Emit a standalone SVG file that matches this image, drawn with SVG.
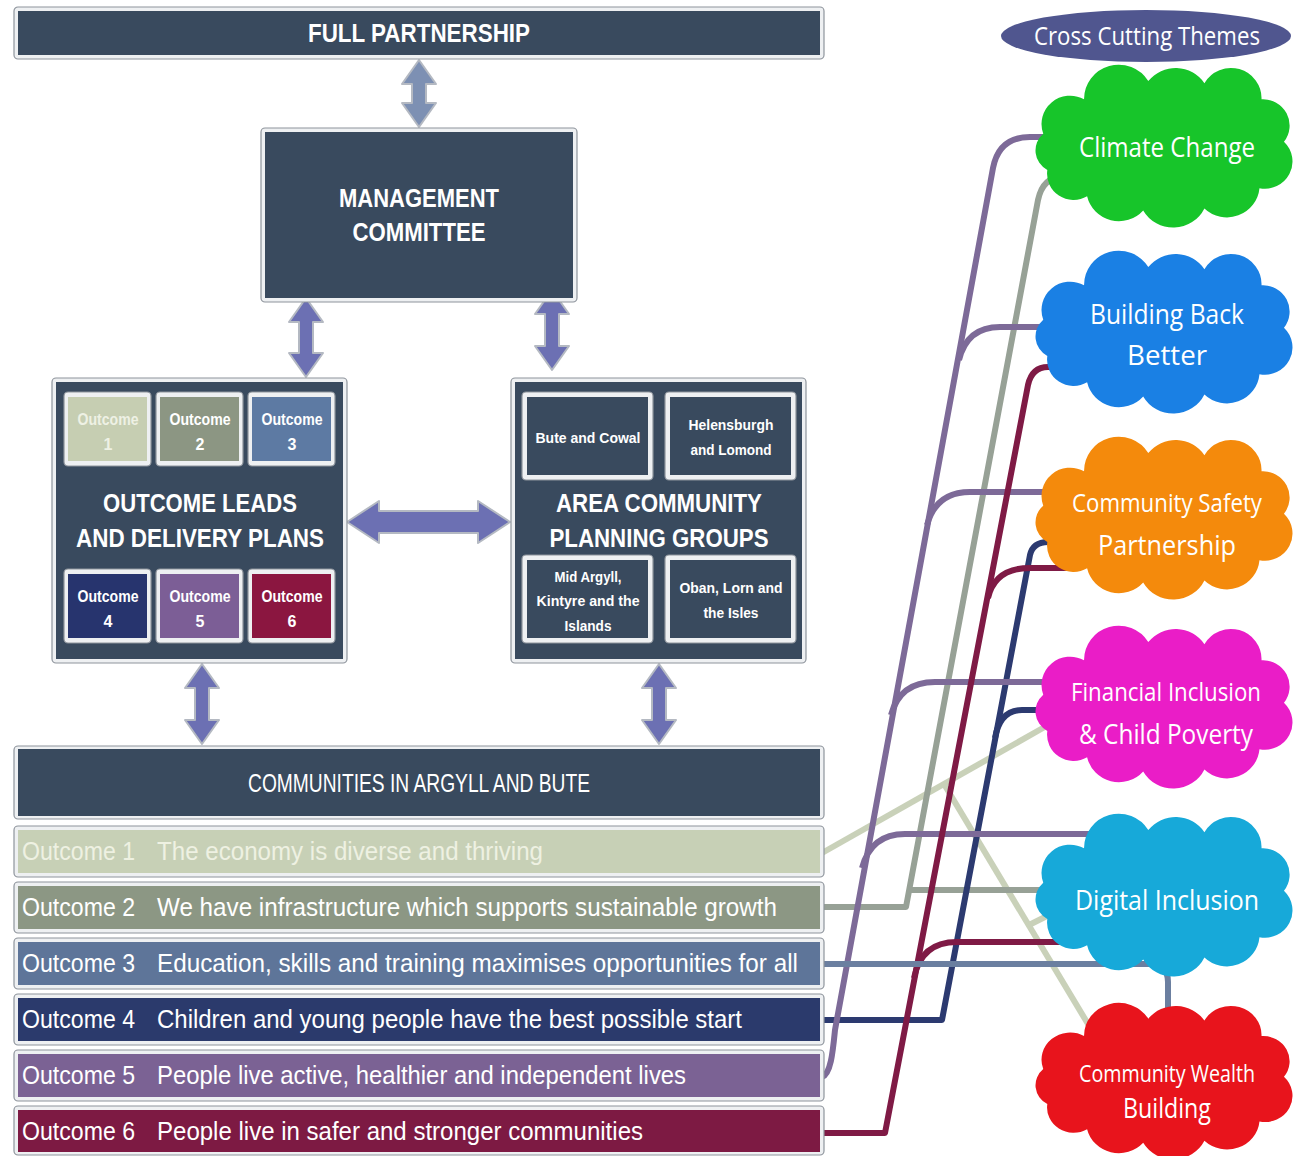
<svg xmlns="http://www.w3.org/2000/svg" width="1293" height="1156" viewBox="0 0 1293 1156">
<defs>
<style>
.halo{fill:#eef0f2;stroke:#8e949c;stroke-width:1.2}
.dark{fill:#394a5e}
.t{font-family:"Liberation Sans",Arial,sans-serif;fill:#fff;text-anchor:middle}
.b{font-weight:bold}
.rt{font-family:"Liberation Sans",Arial,sans-serif;fill:#fff;font-size:25px}
.arr{stroke:#b4b9c2;stroke-width:2;stroke-linejoin:round}
.lav{fill:#6c70b3}
.c{fill:none;stroke-width:6;stroke-linejoin:round}
.ct{font-family:"Open Sans","Noto Sans",sans-serif;fill:#fff;font-size:27px;text-anchor:middle}
</style>
<path id="cloud" d="M12,64 A28,28 0 0 1 52,30 A34,34 0 0 1 115,12 A34,34 0 0 1 170,14 A30,30 0 0 1 226,30 A26,26 0 0 1 248,72 A27,27 0 0 1 224,118 A32,32 0 0 1 170,138 A34,34 0 0 1 110,140 A32,32 0 0 1 55,126 A26,26 0 0 1 16,100 A22,22 0 0 1 12,64 Z"/>
</defs>
<rect width="1293" height="1156" fill="#fff"/>

<g id="connectors">
  <g id="box-arrows" class="arr">
    <path fill="#7d90b3" d="M419,60 L436,84 L426,84 L426,103 L436,103 L419,127 L402,103 L412,103 L412,84 L402,84 Z"/>
    <path class="lav" d="M306,298 L323,322 L313,322 L313,353 L323,353 L306,377 L289,353 L299,353 L299,322 L289,322 Z"/>
    <path class="lav" d="M552,290 L569,314 L559,314 L559,346 L569,346 L552,370 L535,346 L545,346 L545,314 L535,314 Z"/>
    <path class="lav" d="M202,664 L219,688 L209,688 L209,720 L219,720 L202,744 L185,720 L195,720 L195,688 L185,688 Z"/>
    <path class="lav" d="M659,664 L676,688 L666,688 L666,720 L676,720 L659,744 L642,720 L652,720 L652,688 L642,688 Z"/>
    <path class="lav" d="M347,522 L379,501 L379,511 L478,511 L478,501 L510,522 L478,543 L478,533 L379,533 L379,543 Z"/>
  </g>
  <g id="theme-links">
    <path class="c" stroke="#c9d1b9" d="M822,853 L1050,724"/>
    <path class="c" stroke="#c9d1b9" d="M944,784 L1094,1034"/>
    <path class="c" stroke="#c9d1b9" d="M1029,925 L1055,912"/>
    <path class="c" stroke="#97a196" d="M822,907 L906,907 L1038,200 Q1043,177 1062,177 L1080,177"/>
    <path class="c" stroke="#97a196" d="M911,890 L1062,890"/>
    <path class="c" stroke="#2c3a70" d="M822,1020 L942,1020 L1030,555 Q1033,542 1048,542 L1062,542"/>
    <path class="c" stroke="#2c3a70" d="M995,738 Q1000,710 1022,710 L1058,710"/>
    <path class="c" stroke="#7d6a98" d="M822,1077 C831,1074 833,1050 835,1030 L993,168 Q999,137 1030,137 L1062,137"/>
    <path class="c" stroke="#7d6a98" d="M959,360 Q967,327 1000,327 L1062,327"/>
    <path class="c" stroke="#7d6a98" d="M927,525 Q936,492 970,492 L1064,492"/>
    <path class="c" stroke="#7d6a98" d="M891,715 Q900,682 935,682 L1062,682"/>
    <path class="c" stroke="#7d6a98" d="M862,868 Q871,834 905,834 L1125,834"/>
    <path class="c" stroke="#7f1a45" d="M822,1133 L885,1133 L1028,385 Q1032,367 1048,367 L1072,367"/>
    <path class="c" stroke="#7f1a45" d="M988,598 Q995,568 1030,568 L1080,568"/>
    <path class="c" stroke="#7f1a45" d="M914,978 Q921,942 957,942 L1080,942"/>
    <path class="c" stroke="#6b7fa0" d="M822,964 L1150,964 Q1168,964 1168,982 L1168,1020"/>
  </g>
</g>

<g id="full-partnership">
  <rect class="halo" x="14" y="7" width="810" height="52" rx="4"/>
  <rect class="dark" x="18" y="11" width="802" height="44"/>
  <text class="t b" x="419" y="42" font-size="26" textLength="222" lengthAdjust="spacingAndGlyphs">FULL PARTNERSHIP</text>
</g>

<g id="management-committee">
  <rect class="halo" x="261" y="128" width="316" height="174" rx="4"/>
  <rect class="dark" x="265" y="132" width="308" height="166"/>
  <text class="t b" x="419" y="207" font-size="26" textLength="160" lengthAdjust="spacingAndGlyphs">MANAGEMENT</text>
  <text class="t b" x="419" y="241" font-size="26" textLength="133" lengthAdjust="spacingAndGlyphs">COMMITTEE</text>
</g>

<g id="outcome-leads">
  <rect class="halo" x="52" y="378" width="295" height="285" rx="4"/>
  <rect class="dark" x="56" y="382" width="287" height="277"/>
  <text class="t b" x="200" y="512" font-size="25" textLength="194" lengthAdjust="spacingAndGlyphs">OUTCOME LEADS</text>
  <text class="t b" x="200" y="547" font-size="25" textLength="248" lengthAdjust="spacingAndGlyphs">AND DELIVERY PLANS</text>
  <g id="ol-outcome1">
    <rect class="halo" x="64" y="392" width="87" height="74" rx="4"/>
    <rect x="68" y="397" width="79" height="64" fill="#c6ceb2"/>
    <text class="t b" x="108" y="425" font-size="16" textLength="61" lengthAdjust="spacingAndGlyphs" style="fill:#eef1e4">Outcome</text>
    <text class="t b" x="108" y="450" font-size="16" style="fill:#eef1e4">1</text>
  </g>
  <g id="ol-outcome2">
    <rect class="halo" x="156" y="392" width="87" height="74" rx="4"/>
    <rect x="160" y="397" width="79" height="64" fill="#8c9683"/>
    <text class="t b" x="200" y="425" font-size="16" textLength="61" lengthAdjust="spacingAndGlyphs">Outcome</text>
    <text class="t b" x="200" y="450" font-size="16">2</text>
  </g>
  <g id="ol-outcome3">
    <rect class="halo" x="248" y="392" width="87" height="74" rx="4"/>
    <rect x="252" y="397" width="79" height="64" fill="#5d7aa3"/>
    <text class="t b" x="292" y="425" font-size="16" textLength="61" lengthAdjust="spacingAndGlyphs">Outcome</text>
    <text class="t b" x="292" y="450" font-size="16">3</text>
  </g>
  <g id="ol-outcome4">
    <rect class="halo" x="64" y="569" width="87" height="74" rx="4"/>
    <rect x="68" y="574" width="79" height="64" fill="#27346e"/>
    <text class="t b" x="108" y="602" font-size="16" textLength="61" lengthAdjust="spacingAndGlyphs">Outcome</text>
    <text class="t b" x="108" y="627" font-size="16">4</text>
  </g>
  <g id="ol-outcome5">
    <rect class="halo" x="156" y="569" width="87" height="74" rx="4"/>
    <rect x="160" y="574" width="79" height="64" fill="#7c5e96"/>
    <text class="t b" x="200" y="602" font-size="16" textLength="61" lengthAdjust="spacingAndGlyphs">Outcome</text>
    <text class="t b" x="200" y="627" font-size="16">5</text>
  </g>
  <g id="ol-outcome6">
    <rect class="halo" x="248" y="569" width="87" height="74" rx="4"/>
    <rect x="252" y="574" width="79" height="64" fill="#8b1640"/>
    <text class="t b" x="292" y="602" font-size="16" textLength="61" lengthAdjust="spacingAndGlyphs">Outcome</text>
    <text class="t b" x="292" y="627" font-size="16">6</text>
  </g>
</g>

<g id="area-groups">
  <rect class="halo" x="511" y="378" width="295" height="285" rx="4"/>
  <rect class="dark" x="515" y="382" width="287" height="277"/>
  <text class="t b" x="659" y="512" font-size="25" textLength="206" lengthAdjust="spacingAndGlyphs">AREA COMMUNITY</text>
  <text class="t b" x="659" y="547" font-size="25" textLength="219" lengthAdjust="spacingAndGlyphs">PLANNING GROUPS</text>
  <g id="bute-cowal">
    <rect class="halo" x="522" y="392" width="131" height="88" rx="4"/>
    <rect class="dark" x="527" y="397" width="121" height="78"/>
    <text class="t b" x="588" y="443" font-size="15" textLength="105" lengthAdjust="spacingAndGlyphs">Bute and Cowal</text>
  </g>
  <g id="helensburgh-lomond">
    <rect class="halo" x="665" y="392" width="131" height="88" rx="4"/>
    <rect class="dark" x="670" y="397" width="121" height="78"/>
    <text class="t b" x="731" y="430" font-size="15" textLength="85" lengthAdjust="spacingAndGlyphs">Helensburgh</text>
    <text class="t b" x="731" y="455" font-size="15" textLength="81" lengthAdjust="spacingAndGlyphs">and Lomond</text>
  </g>
  <g id="mid-argyll">
    <rect class="halo" x="522" y="555" width="131" height="88" rx="4"/>
    <rect class="dark" x="527" y="560" width="121" height="78"/>
    <text class="t b" x="588" y="582" font-size="15" textLength="67" lengthAdjust="spacingAndGlyphs">Mid Argyll,</text>
    <text class="t b" x="588" y="606" font-size="15" textLength="103" lengthAdjust="spacingAndGlyphs">Kintyre and the</text>
    <text class="t b" x="588" y="631" font-size="15" textLength="47" lengthAdjust="spacingAndGlyphs">Islands</text>
  </g>
  <g id="oban-lorn">
    <rect class="halo" x="665" y="555" width="131" height="88" rx="4"/>
    <rect class="dark" x="670" y="560" width="121" height="78"/>
    <text class="t b" x="731" y="593" font-size="15" textLength="103" lengthAdjust="spacingAndGlyphs">Oban, Lorn and</text>
    <text class="t b" x="731" y="618" font-size="15" textLength="55" lengthAdjust="spacingAndGlyphs">the Isles</text>
  </g>
</g>

<g id="communities">
  <rect class="halo" x="14" y="746" width="810" height="73" rx="4"/>
  <rect class="dark" x="18" y="749" width="802" height="67"/>
  <text class="t" x="419" y="792" font-size="25" textLength="342" lengthAdjust="spacingAndGlyphs">COMMUNITIES IN ARGYLL AND BUTE</text>
</g>

<g id="outcome-row-1">
  <rect class="halo" x="14" y="826" width="810" height="51" rx="4"/>
  <rect x="18" y="830" width="802" height="43" fill="#c7d0b6"/>
  <text class="rt" x="22" y="860" textLength="113" lengthAdjust="spacingAndGlyphs" style="fill:#eef1e2">Outcome 1</text>
  <text class="rt" x="157" y="860" textLength="386" lengthAdjust="spacingAndGlyphs" style="fill:#eef1e2">The economy is diverse and thriving</text>
</g>
<g id="outcome-row-2">
  <rect class="halo" x="14" y="882" width="810" height="51" rx="4"/>
  <rect x="18" y="886" width="802" height="43" fill="#8c9784"/>
  <text class="rt" x="22" y="916" textLength="113" lengthAdjust="spacingAndGlyphs">Outcome 2</text>
  <text class="rt" x="157" y="916" textLength="620" lengthAdjust="spacingAndGlyphs">We have infrastructure which supports sustainable growth</text>
</g>
<g id="outcome-row-3">
  <rect class="halo" x="14" y="938" width="810" height="51" rx="4"/>
  <rect x="18" y="942" width="802" height="43" fill="#5e7599"/>
  <text class="rt" x="22" y="972" textLength="113" lengthAdjust="spacingAndGlyphs">Outcome 3</text>
  <text class="rt" x="157" y="972" textLength="641" lengthAdjust="spacingAndGlyphs">Education, skills and training maximises opportunities for all</text>
</g>
<g id="outcome-row-4">
  <rect class="halo" x="14" y="994" width="810" height="51" rx="4"/>
  <rect x="18" y="998" width="802" height="43" fill="#2b3a6c"/>
  <text class="rt" x="22" y="1028" textLength="113" lengthAdjust="spacingAndGlyphs">Outcome 4</text>
  <text class="rt" x="157" y="1028" textLength="585" lengthAdjust="spacingAndGlyphs">Children and young people have the best possible start</text>
</g>
<g id="outcome-row-5">
  <rect class="halo" x="14" y="1050" width="810" height="51" rx="4"/>
  <rect x="18" y="1054" width="802" height="43" fill="#7b6294"/>
  <text class="rt" x="22" y="1084" textLength="113" lengthAdjust="spacingAndGlyphs">Outcome 5</text>
  <text class="rt" x="157" y="1084" textLength="529" lengthAdjust="spacingAndGlyphs">People live active, healthier and independent lives</text>
</g>
<g id="outcome-row-6">
  <rect class="halo" x="14" y="1106" width="810" height="49" rx="4"/>
  <rect x="18" y="1110" width="802" height="42" fill="#7d1a43"/>
  <text class="rt" x="22" y="1140" textLength="113" lengthAdjust="spacingAndGlyphs">Outcome 6</text>
  <text class="rt" x="157" y="1140" textLength="486" lengthAdjust="spacingAndGlyphs">People live in safer and stronger communities</text>
</g>

<g id="cross-cutting-themes">
  <ellipse cx="1146" cy="36" rx="145" ry="26" fill="#50568f"/>
  <text class="ct" x="1147" y="45" textLength="226" lengthAdjust="spacingAndGlyphs" style="font-size:25px">Cross Cutting Themes</text>
</g>
<g id="climate-change">
  <use href="#cloud" transform="translate(1031,69) scale(1.02,1.01)" fill="#17c52a"/>
  <text class="ct" x="1167" y="157" textLength="176" lengthAdjust="spacingAndGlyphs">Climate Change</text>
</g>
<g id="building-back-better">
  <use href="#cloud" transform="translate(1031,255) scale(1.02,1.01)" fill="#1a80e4"/>
  <text class="ct" x="1167" y="324" textLength="154" lengthAdjust="spacingAndGlyphs">Building Back</text>
  <text class="ct" x="1167" y="365" textLength="80" lengthAdjust="spacingAndGlyphs">Better</text>
</g>
<g id="community-safety">
  <use href="#cloud" transform="translate(1031,441) scale(1.02,1.01)" fill="#f48a0c"/>
  <text class="ct" x="1167" y="512" textLength="190" lengthAdjust="spacingAndGlyphs" style="font-size:26px">Community Safety</text>
  <text class="ct" x="1167" y="555" textLength="138" lengthAdjust="spacingAndGlyphs">Partnership</text>
</g>
<g id="financial-inclusion">
  <use href="#cloud" transform="translate(1031,630) scale(1.02,1.01)" fill="#ea1dc7"/>
  <text class="ct" x="1166" y="701" textLength="190" lengthAdjust="spacingAndGlyphs" style="font-size:26px">Financial Inclusion</text>
  <text class="ct" x="1166" y="744" textLength="174" lengthAdjust="spacingAndGlyphs">&amp; Child Poverty</text>
</g>
<g id="digital-inclusion">
  <use href="#cloud" transform="translate(1031,818) scale(1.02,1.01)" fill="#17a9d9"/>
  <text class="ct" x="1167" y="910" textLength="184" lengthAdjust="spacingAndGlyphs">Digital Inclusion</text>
</g>
<g id="community-wealth-building">
  <use href="#cloud" transform="translate(1031,1007) scale(1.02,0.97)" fill="#e8141c"/>
  <text class="ct" x="1167" y="1082" textLength="176" lengthAdjust="spacingAndGlyphs" style="font-size:24px">Community Wealth</text>
  <text class="ct" x="1167" y="1118" textLength="88" lengthAdjust="spacingAndGlyphs">Building</text>
</g>
</svg>
